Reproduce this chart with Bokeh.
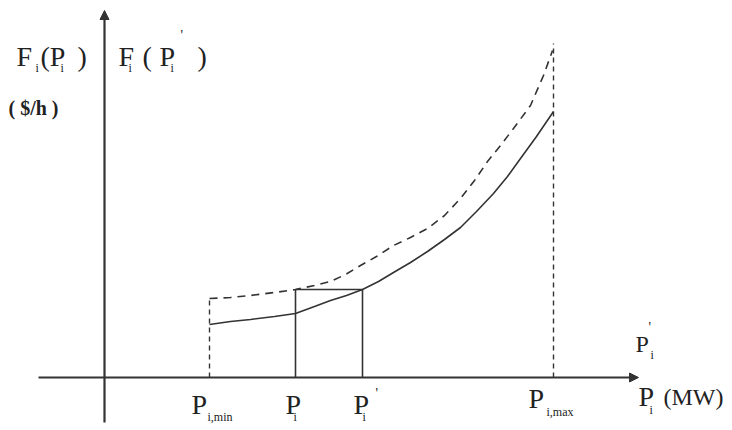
from bokeh.plotting import figure
from bokeh.models import Range1d, Arrow, NormalHead
from bokeh.core.properties import value
from bokeh.embed import file_html
from bokeh.resources import INLINE

# ---- data (schematic units: P in MW-like units, F in $/h-like units) ----
P_solid = [105, 126, 146, 170, 191, 210, 226, 242, 258, 274, 289, 306, 323, 340, 356, 372, 389, 403, 416, 432, 449]
F_solid = [53, 56, 58, 61, 64, 71, 77, 82, 88, 96, 105, 115, 126, 138, 150, 166, 184, 201, 219, 241, 266]

P_dash = [105, 126, 146, 170, 191, 210, 226, 241, 256, 272, 289, 306, 323, 340, 356, 370, 383, 396, 409, 426, 439, 448]
F_dash = [79, 80, 82, 85, 88, 92, 96, 103, 112, 121, 132, 140, 149, 162, 179, 197, 216, 232, 249, 272, 302, 327]

P_min = 105
P_i = 191
P_i_prime = 258
P_max = 449
F_level = 88      # F'(P_i) == F(P_i')
F_top_max = 334   # top of dashed P_max marker

X0, Y0 = 104, 377   # pixel of origin (used only to place labels)
DY = 9              # baseline correction for text placement

def px(x):
    return x - X0

def py(y):
    return Y0 - y

W, H = 732, 430
p = figure(width=W, height=H, output_backend="svg", toolbar_location=None,
           x_range=Range1d(px(0), px(W)), y_range=Range1d(py(H), py(0)),
           min_border=0)
p.axis.visible = False
p.grid.visible = False
p.outline_line_color = None
p.background_fill_color = "white"

ink = "#333333"

# axes with arrows
p.add_layout(Arrow(end=NormalHead(size=9, fill_color=ink, line_color=ink),
                   x_start=px(38), y_start=0, x_end=px(638), y_end=0,
                   line_color=ink, line_width=2.2))
p.add_layout(Arrow(end=NormalHead(size=9, fill_color=ink, line_color=ink),
                   x_start=0, y_start=py(422), x_end=0, y_end=py(10),
                   line_color=ink, line_width=2.2))

# curves
p.line(P_solid, F_solid, line_color=ink, line_width=1.6)
p.line(P_dash, F_dash, line_color=ink, line_width=1.6, line_dash="8 6")

# markers
p.line([P_min, P_min], [0, F_dash[0]], line_color=ink, line_width=1.4, line_dash="5 4")
p.line([P_min, P_dash[0]], [F_solid[0], F_solid[0]], line_color=ink, line_width=1.4)
p.line([P_max, P_max], [0, F_top_max], line_color=ink, line_width=1.4, line_dash="5 4")
p.line([P_i, P_i], [0, F_level], line_color=ink, line_width=1.6)
p.line([P_i_prime, P_i_prime], [0, F_level], line_color=ink, line_width=1.6)
p.line([P_i, P_i_prime], [F_level, F_level], line_color=ink, line_width=1.6)

font = value("Liberation Serif")

def lab(text, x, y, size, style="normal"):
    p.text([px(x)], [py(y - DY)], text=[text], text_font=font, text_font_size=f"{size}px",
           text_color="#222222", text_baseline="alphabetic", text_align="left",
           text_font_style=style)

# top-left labels
lab("F", 16, 65, 28)
lab("i", 35, 76, 12)
lab("(P", 40, 65, 28)
lab("i", 60, 76, 12)
lab(")", 77, 65, 28)

lab("F", 118, 65, 28)
lab("i", 128, 76, 12)
lab("(", 142, 65, 28)
lab("P", 159, 65, 28)
lab("i", 170, 76, 12)
lab("'", 180, 44, 14)
lab(")", 197, 65, 28)

lab("( $/h )", 8, 116, 20, "bold")

# bottom labels
lab("P", 191, 413, 28)
lab("i,min", 207, 425, 12)
lab("P", 285, 413, 28)
lab("i", 293, 425, 12)
lab("P", 353, 413, 28)
lab("i", 362, 425, 12)
lab("'", 375, 402, 14)
lab("P", 528, 407, 28)
lab("i,max", 546, 420, 12)
lab("P", 638, 405, 28)
lab("i", 649, 418, 12)
lab("(MW)", 663, 405, 24)

lab("P", 635, 352, 24)
lab("'", 648, 336, 14)
lab("i", 650, 363, 12)

open("out.html", "w").write(file_html(p, INLINE))
